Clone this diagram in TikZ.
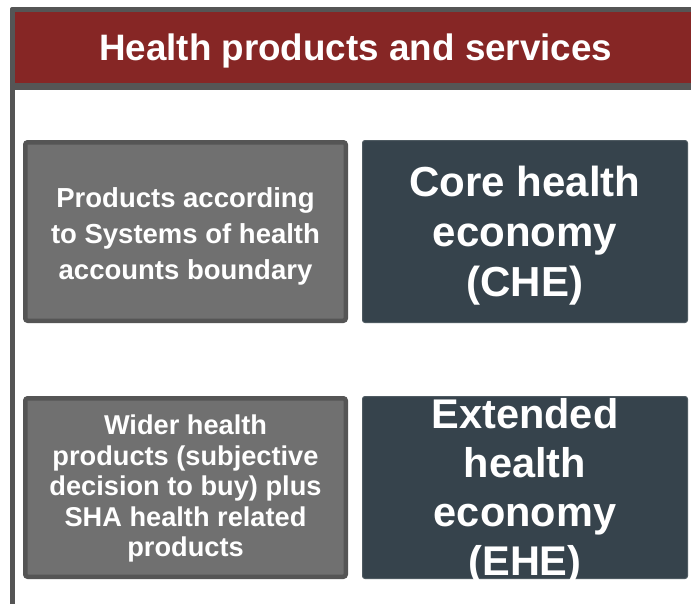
\documentclass[tikz,border=0pt]{standalone}
\usepackage{fontspec}
\setmainfont{Liberation Sans}
\definecolor{framegray}{HTML}{555555}
\definecolor{titlered}{HTML}{862625}
\definecolor{boxgray}{HTML}{707070}
\definecolor{boxslate}{HTML}{36434C}
\begin{document}
\begin{tikzpicture}[x=1pt,y=-1pt,
  titleband/.style={fill=titlered, text=white, inner sep=0pt,
    minimum width=681pt, minimum height=71pt, text depth=1.5pt,
    font=\bfseries\fontsize{36.8}{40}\selectfont},
  graybox/.style={draw=framegray, fill=boxgray, line width=4.5pt,
    rounded corners=2.5pt, minimum width=320.5pt, minimum height=178.5pt, inner sep=0pt},
  slatebox/.style={draw=boxslate!88!white, fill=boxslate, line width=1pt,
    rounded corners=2.5pt, minimum width=325pt, minimum height=182pt, inner sep=0pt},
  boxtext/.style={text=white, align=center, inner sep=0pt},
]
\useasboundingbox (0,0) rectangle (691,603);

% outer frame, running off the right and bottom edges
\fill[framegray, rounded corners=2pt] (10,7) rectangle (720,640);
\fill[white] (15,90) rectangle (720,640);

% title band
\node[titleband, anchor=north west] (title) at (15,12) {Health products and services};

% boxes
\node[graybox]  (sha)  at (185.5,231.5) {};
\node[slatebox] (che)  at (525,231.5) {};
\node[graybox]  (wide) at (185.5,487.5) {};
\node[slatebox] (ehe)  at (525,487.5) {};

% box texts
\node[boxtext, font=\bfseries\fontsize{27.5}{36}\selectfont] (shatext)
  at ([yshift=-4.4pt]sha.center)
  {Products according\\to Systems of health\\accounts boundary};
\node[boxtext, font=\bfseries\fontsize{42}{50}\selectfont] (chetext)
  at ([yshift=-4.5pt]che.center)
  {Core health\\economy\\(CHE)};
\node[boxtext, font=\bfseries\fontsize{27.2}{30.5}\selectfont] (widetext)
  at ([yshift=-1.4pt]wide.center)
  {Wider health\\products (subjective\\decision to buy) plus\\SHA health related\\products};
\node[boxtext, font=\bfseries\fontsize{41.5}{49}\selectfont] (ehetext)
  at ([yshift=-3.5pt]ehe.center)
  {Extended\\health\\economy\\(EHE)};
\end{tikzpicture}
\end{document}
